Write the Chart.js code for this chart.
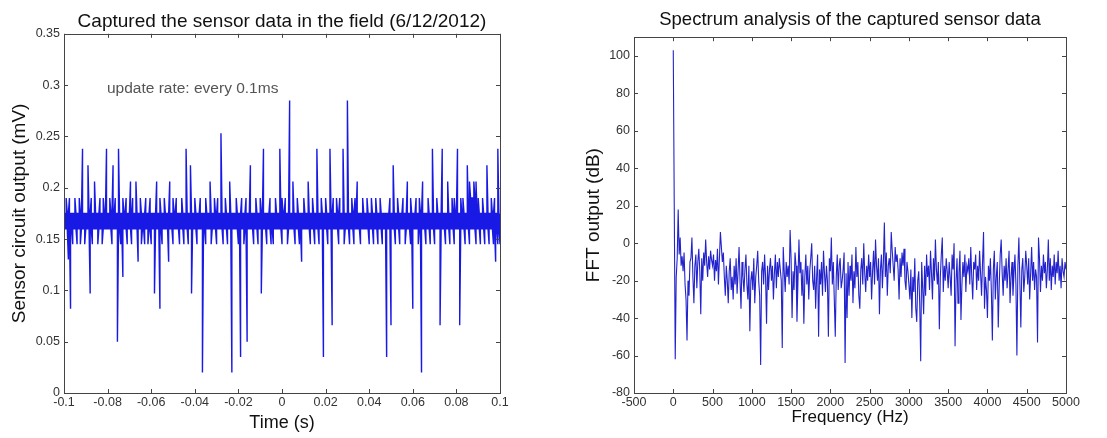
<!DOCTYPE html>
<html>
<head>
<meta charset="utf-8">
<script src="https://cdn.jsdelivr.net/npm/chart.js@4.4.1/dist/chart.umd.min.js"></script>
<style>
html,body{margin:0;padding:0;background:#fff;overflow:hidden;width:1107px;height:438px;}
canvas{position:absolute;top:0;}
#c1{left:0;}
#c2{left:580px;}
</style>
</head>
<body>
<canvas id="c1" width="545" height="438"></canvas>
<canvas id="c2" width="527" height="438"></canvas>
<script>
// ---- Left: captured sensor data (mV), min / max reading in each 0.5 ms window from -0.1 s ----
const timeStart = -0.1;
const timeStep = 0.0005;
const sensorHigh = [
.175,.175,.19,.175,.175,.19,.175,.175,.175,.175,.19,.175,.175,.175,.19,.175,.175,.238,.175,.175,
.175,.175,.222,.175,.175,.19,.175,.175,.206,.175,.175,.175,.175,.19,.175,.175,.19,.175,.175,.238,
.175,.175,.19,.175,.175,.222,.175,.19,.175,.175,.238,.175,.175,.175,.19,.175,.175,.19,.175,.175,
.175,.206,.175,.19,.175,.175,.206,.175,.175,.175,.19,.175,.175,.175,.175,.19,.175,.175,.175,.19,
.175,.175,.175,.175,.175,.206,.175,.175,.19,.175,.175,.175,.19,.175,.175,.175,.175,.206,.175,.175,
.19,.175,.175,.19,.175,.175,.175,.175,.19,.175,.175,.175,.238,.175,.175,.175,.222,.175,.175,.175,
.19,.175,.175,.175,.175,.19,.175,.175,.175,.175,.19,.175,.175,.175,.206,.175,.175,.175,.19,.175,
.175,.19,.175,.175,.253,.175,.175,.175,.19,.175,.175,.175,.206,.175,.175,.175,.175,.175,.19,.175,
.175,.175,.175,.19,.175,.175,.175,.19,.175,.175,.175,.222,.175,.175,.175,.175,.19,.175,.175,.175,
.19,.175,.175,.238,.175,.175,.175,.175,.175,.19,.175,.175,.175,.175,.19,.175,.175,.175,.238,.175,
.19,.175,.175,.19,.175,.175,.175,.285,.175,.175,.206,.175,.175,.175,.19,.175,.175,.175,.175,.175,
.19,.175,.175,.175,.206,.175,.175,.175,.19,.175,.175,.175,.238,.175,.175,.175,.19,.175,.175,.175,
.19,.175,.175,.175,.238,.175,.175,.19,.175,.175,.19,.175,.175,.19,.175,.175,.238,.175,.175,.175,
.285,.175,.175,.175,.19,.175,.175,.19,.175,.206,.175,.175,.175,.175,.19,.175,.175,.175,.19,.175,
.175,.175,.19,.175,.175,.175,.19,.175,.175,.175,.19,.175,.175,.175,.175,.175,.175,.175,.175,.19,
.175,.175,.222,.175,.175,.175,.19,.175,.175,.175,.175,.19,.175,.175,.175,.206,.175,.175,.19,.175,
.175,.175,.175,.19,.175,.175,.19,.175,.175,.206,.175,.175,.175,.175,.19,.175,.175,.175,.238,.175,
.175,.175,.19,.175,.175,.175,.175,.238,.175,.175,.175,.175,.206,.175,.175,.175,.19,.175,.19,.175,
.175,.238,.175,.175,.19,.175,.19,.175,.175,.175,.222,.175,.206,.19,.19,.19,.206,.19,.206,.175,
.19,.175,.175,.175,.19,.175,.175,.175,.222,.175,.175,.175,.19,.175,.175,.19,.175,.175,.238,.175,
.175
];
const sensorLow = [
.16,.16,.16,.16,.13,.16,.082,.16,.145,.16,.16,.16,.145,.16,.16,.145,.16,.16,.16,.145,
.16,.16,.16,.16,.097,.16,.145,.16,.16,.16,.16,.145,.16,.16,.16,.145,.16,.16,.16,.16,
.16,.16,.16,.16,.145,.16,.16,.16,.16,.05,.16,.16,.145,.16,.113,.16,.16,.16,.145,.16,
.16,.16,.145,.16,.16,.16,.16,.16,.128,.16,.16,.145,.16,.16,.145,.16,.16,.145,.16,.16,
.145,.16,.16,.097,.16,.16,.16,.16,.082,.16,.145,.16,.16,.16,.16,.16,.128,.16,.16,.16,
.145,.16,.16,.16,.16,.16,.145,.16,.16,.16,.145,.16,.16,.16,.145,.16,.16,.097,.16,.16,
.16,.16,.145,.16,.16,.16,.16,.02,.16,.16,.145,.16,.16,.16,.16,.145,.16,.16,.16,.16,
.145,.16,.16,.16,.16,.16,.145,.16,.16,.16,.145,.16,.16,.16,.02,.16,.16,.16,.16,.16,
.145,.16,.035,.16,.16,.145,.16,.16,.05,.16,.16,.16,.16,.16,.145,.16,.16,.16,.145,.16,
.16,.097,.16,.16,.16,.16,.145,.16,.16,.16,.145,.16,.145,.16,.16,.16,.16,.16,.16,.16,
.145,.16,.16,.16,.16,.145,.16,.16,.16,.16,.16,.16,.145,.16,.16,.16,.145,.16,.128,.16,
.16,.16,.16,.16,.16,.16,.145,.16,.16,.16,.145,.16,.16,.16,.145,.16,.16,.16,.035,.16,
.16,.16,.145,.16,.16,.16,.066,.16,.16,.16,.16,.16,.145,.16,.16,.16,.16,.145,.16,.16,
.16,.16,.145,.16,.16,.16,.145,.16,.16,.16,.16,.16,.145,.16,.16,.16,.16,.16,.16,.16,
.145,.16,.16,.16,.145,.16,.16,.16,.145,.16,.16,.16,.145,.16,.16,.16,.035,.16,.16,.16,
.066,.16,.16,.16,.145,.16,.16,.16,.145,.16,.16,.16,.16,.145,.16,.16,.16,.16,.145,.16,
.082,.16,.16,.16,.16,.145,.16,.16,.02,.16,.16,.16,.145,.16,.16,.16,.145,.16,.16,.16,
.145,.16,.16,.16,.16,.066,.16,.16,.16,.16,.145,.16,.16,.16,.145,.16,.16,.16,.145,.16,
.16,.16,.16,.066,.16,.16,.16,.16,.145,.16,.16,.16,.145,.16,.16,.16,.16,.16,.145,.16,
.16,.16,.145,.16,.16,.16,.145,.16,.16,.16,.145,.16,.16,.16,.145,.16,.128,.16,.145,.16,
.145
];

// ---- Right: FFT output (dB), one bin every 12.5 Hz from 0 Hz ----
const freqStep = 12.5;
const fftValues = [
103,20,-62,-18,-8,18,-6,3,-12,-7,-15,-5,-22,-30,-52,-20,-28,-10,-8,3,
-18,-32,-12,-6,-24,-10,-3,-15,-38,-8,-20,-5,-12,2,-10,-18,-7,-14,-4,-9,
-12,-6,-20,-9,-15,-3,-22,-8,6,-2,-10,-5,-18,-28,-12,-20,-32,-15,-8,-25,
-18,-30,-12,-22,-8,-27,-15,-2,-20,-35,-10,-18,-26,-14,-6,-22,-30,-12,-47,-20,
-15,-25,-8,-32,-18,-12,-4,-20,-28,-65,-15,-10,-22,-6,-18,-43,-12,-25,-14,-8,
-20,-12,-30,-16,-6,-24,-10,-18,-8,-14,-20,-56,-2,-15,-26,-10,-18,-12,-22,7,
-8,-40,-15,-25,-5,-12,-42,-20,2,-16,-10,-28,-14,-43,-18,-6,-22,-12,-30,-15,
-8,0,-20,-25,-12,-35,-18,-6,-50,-14,-22,-10,-28,-4,-16,-26,-12,-20,-50,-8,
-15,3,-22,-10,-30,-50,-18,-6,-25,-12,-8,-24,-20,-14,-5,-64,-16,-40,-10,-28,
-12,-20,-6,-32,-15,-24,-2,-18,-10,-28,-35,-14,-8,-22,0,-16,-26,-12,-20,-6,
-18,-10,-30,-15,-4,-22,2,-12,-20,-8,-38,-14,-6,-24,-10,11,-18,-5,-28,-12,
-8,-16,6,-4,-12,-20,-2,-10,-6,-14,-30,-8,-18,-5,-12,-3,-20,-25,-10,-15,
-22,-30,-14,-40,-18,-26,-8,-35,-42,-20,-15,-32,-63,-10,-24,-38,-12,-28,-6,-18,
-12,-25,-4,-16,-30,-8,-20,2,-14,-22,-10,-46,-18,-6,3,-26,-12,-20,-8,-15,
-24,-10,-18,-28,-6,-14,0,-55,-20,-8,-32,-16,-4,-41,-22,-10,-18,-6,-26,-12,
-15,-8,-22,-2,-18,-30,-10,-14,-6,-25,-12,-20,-4,-16,-28,-10,6,-35,-18,-25,
-40,-12,-20,-8,-26,-52,-14,-4,-30,-18,-10,-45,-22,-6,2,-16,-28,-12,-20,-8,
-24,-14,-4,-32,-18,-10,-28,-16,-6,-22,-60,-12,3,-20,-45,-14,-8,-26,-18,-4,
-12,-22,-8,-30,-16,-2,-20,-10,-25,-14,-18,-53,3,-8,-26,-12,-20,-6,-16,-10,
-24,-14,2,-20,-8,-25,-12,-18,-6,-22,-10,-16,-4,-20,-12,-24,-8,-15,-18,-10,
-14
];

const leftTitle = 'Captured the sensor data in the field (6/12/2012)';
const rightTitle = 'Spectrum analysis of the captured sensor data';
const noteText = 'update rate: every 0.1ms';

Chart.defaults.font.family = "'Liberation Sans', Arial, Helvetica, sans-serif";
Chart.defaults.color = '#333';

const fmt = v => String(+(+v).toFixed(2));

// min/max of each window, visited alternately so the trace stays continuous
const sensorPoints = [];
sensorHigh.forEach((hi, i) => {
  const t = timeStart + i * timeStep;
  const lo = sensorLow[i];
  if (i % 2 === 0) { sensorPoints.push({x: t, y: lo}, {x: t, y: hi}); }
  else { sensorPoints.push({x: t, y: hi}, {x: t, y: lo}); }
});

// inside tick marks + box, MATLAB style
const boxTicks = {
  id: 'boxTicks',
  afterDatasetsDraw(chart) {
    const {ctx, chartArea: a, scales: {x, y}} = chart;
    ctx.save();
    ctx.strokeStyle = '#444';
    ctx.lineWidth = 1;
    ctx.strokeRect(Math.round(a.left) + 0.5, Math.round(a.top) + 0.5,
                   Math.round(a.right - a.left), Math.round(a.bottom - a.top));
    ctx.beginPath();
    const L = 4;
    x.ticks.forEach(t => {
      const px = Math.round(x.getPixelForValue(t.value)) + 0.5;
      ctx.moveTo(px, a.bottom); ctx.lineTo(px, a.bottom - L);
      ctx.moveTo(px, a.top); ctx.lineTo(px, a.top + L);
    });
    y.ticks.forEach(t => {
      const py = Math.round(y.getPixelForValue(t.value)) + 0.5;
      ctx.moveTo(a.left, py); ctx.lineTo(a.left + L, py);
      ctx.moveTo(a.right, py); ctx.lineTo(a.right - L, py);
    });
    ctx.stroke();
    ctx.restore();
  }
};

const noteLabel = {
  id: 'noteLabel',
  afterDatasetsDraw(chart, args, opts) {
    if (!opts.text) return;
    const {ctx, scales: {x, y}} = chart;
    ctx.save();
    ctx.font = "15.5px 'Liberation Sans', Arial, sans-serif";
    ctx.fillStyle = '#555';
    ctx.textAlign = 'left';
    ctx.textBaseline = 'middle';
    ctx.fillText(opts.text, x.getPixelForValue(opts.x), y.getPixelForValue(opts.y));
    ctx.restore();
  }
};

function axisCommon() {
  return {
    grid: {display: false, drawTicks: false, tickLength: 0},
    border: {display: false}
  };
}

new Chart(document.getElementById('c1'), {
  type: 'line',
  data: {
    datasets: [{
      data: sensorPoints,
      borderColor: 'rgb(25,25,230)',
      borderWidth: 1.4,
      pointRadius: 0,
      tension: 0
    }]
  },
  options: {
    responsive: false,
    animation: false,
    layout: {padding: {left: 0, right: 45, top: 0, bottom: 0}},
    plugins: {
      legend: {display: false},
      tooltip: {enabled: false},
      title: {
        display: true, text: leftTitle, fullSize: false, color: '#111',
        font: {size: 19, weight: 'normal'},
        padding: {top: 10, bottom: 1}
      },
      noteLabel: {text: noteText, x: -0.0803, y: 0.2965}
    },
    scales: {
      x: Object.assign(axisCommon(), {
        type: 'linear', min: -0.1, max: 0.1,
        ticks: {stepSize: 0.02, padding: 2, font: {size: 12.5}, color: '#333', maxRotation: 0, autoSkip: false, callback: fmt},
        title: {display: true, text: 'Time (s)', color: '#111', font: {size: 18}, padding: {top: 0, bottom: 4}},
        afterFit(s) { s.height = 45; }
      }),
      y: Object.assign(axisCommon(), {
        type: 'linear', min: 0, max: 0.35,
        ticks: {stepSize: 0.05, padding: 4, font: {size: 12.5}, color: '#333', callback: fmt},
        title: {display: true, text: 'Sensor circuit output (mV)', color: '#111', font: {size: 19}, padding: {top: 8, bottom: 0}},
        afterFit(s) { s.width = 64; }
      })
    }
  },
  plugins: [boxTicks, noteLabel]
});

new Chart(document.getElementById('c2'), {
  type: 'line',
  data: {
    datasets: [{
      data: fftValues.map((v, i) => ({x: i * freqStep, y: v})),
      borderColor: 'rgb(35,35,205)',
      borderWidth: 1.1,
      pointRadius: 0,
      tension: 0
    }]
  },
  options: {
    responsive: false,
    animation: false,
    layout: {padding: {left: 0, right: 41, top: 0, bottom: 0}},
    plugins: {
      legend: {display: false},
      tooltip: {enabled: false},
      title: {
        display: true, text: rightTitle, fullSize: false, color: '#111',
        font: {size: 18.5, weight: 'normal'},
        padding: {top: 9, bottom: 6}
      }
    },
    scales: {
      x: Object.assign(axisCommon(), {
        type: 'linear', min: -500, max: 5000,
        ticks: {stepSize: 500, padding: 2, font: {size: 12.5}, color: '#333', maxRotation: 0, autoSkip: false, callback: v => String(v)},
        title: {display: true, text: 'Frequency (Hz)', color: '#111', font: {size: 17}, padding: {top: 0, bottom: 10}},
        afterFit(s) { s.height = 45; }
      }),
      y: Object.assign(axisCommon(), {
        type: 'linear', min: -80, max: 110,
        ticks: {stepSize: 20, padding: 4, font: {size: 12.5}, color: '#333', callback: v => String(v)},
        afterBuildTicks(s) { s.ticks = s.ticks.filter(t => t.value <= 100); },
        title: {display: true, text: 'FFT output (dB)', color: '#111', font: {size: 19}, padding: {top: 2, bottom: 0}},
        afterFit(s) { s.width = 54; }
      })
    }
  },
  plugins: [boxTicks]
});
</script>
</body>
</html>
